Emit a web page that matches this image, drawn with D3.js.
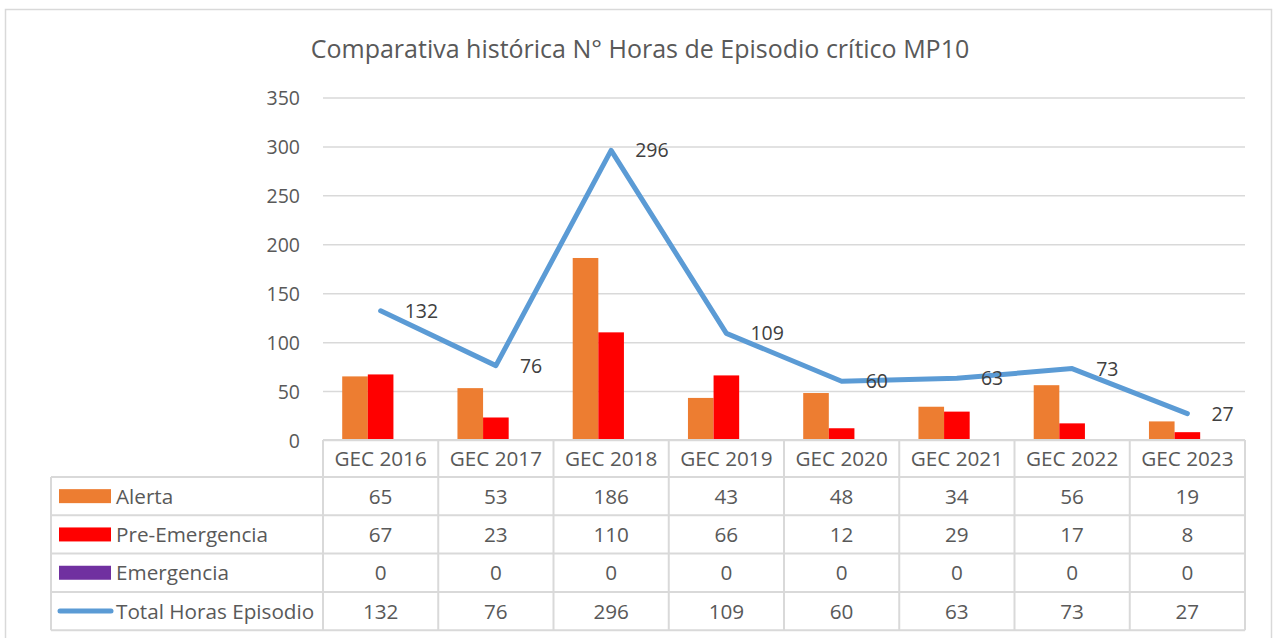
<!DOCTYPE html>
<html><head><meta charset="utf-8">
<script src="https://cdn.jsdelivr.net/npm/d3@7"></script>
<style>
html,body{margin:0;padding:0;background:#fff;}
svg{display:block;font-family:"Open Sans",sans-serif;}
</style></head>
<body>
<svg id="c" width="1276" height="638"></svg>
<script>
const categories = ["GEC 2016","GEC 2017","GEC 2018","GEC 2019","GEC 2020","GEC 2021","GEC 2022","GEC 2023"];
const alerta = [65,53,186,43,48,34,56,19];
const preEmergencia = [67,23,110,66,12,29,17,8];
const emergencia = [0,0,0,0,0,0,0,0];
const totalHoras = [132,76,296,109,60,63,73,27];
const yTicks = [0,50,100,150,200,250,300,350];
const seriesNames = ["Alerta","Pre-Emergencia","Emergencia","Total Horas Episodio"];
const title = "Comparativa histórica N° Horas de Episodio crítico MP10";

const colors = ["#ED7D31","#FF0000","#7030A0","#5B9BD5"];
const svg = d3.select("#c");
const L = 323, R = 1245, T = 97.5, B = 440;
const tableFont = 20.7;

// chart frame
svg.append("rect").attr("x",5.5).attr("y",9.5).attr("width",1266).attr("height",700)
  .attr("fill","#fff").attr("stroke","#D9D9D9").attr("stroke-width",1.5);

svg.append("text").attr("x",640).attr("y",58).attr("text-anchor","middle")
  .attr("font-size",25).attr("fill","#595959").text(title);

const x = d3.scaleBand().domain(categories).range([L,R]);
const y = d3.scaleLinear().domain([0,350]).range([B,T]);

// gridlines + y axis
const yAxis = d3.axisLeft(y).tickValues(yTicks).tickSize(-(R-L)).tickPadding(23);
const ga = svg.append("g").attr("transform",`translate(${L},0)`).call(yAxis);
ga.select(".domain").remove();
ga.selectAll(".tick line").attr("stroke","#D9D9D9").attr("stroke-width",1.5);
ga.selectAll(".tick text").attr("fill","#595959").attr("font-size",19.5)
  .attr("font-family","Open Sans").attr("dy","0.36em");

// bars (gap width 150%)
const sub = d3.scaleBand().domain([0,1,2]).range([0,x.bandwidth()]).paddingOuter(0.75).paddingInner(0);
const barSeries = [alerta, preEmergencia, emergencia];
barSeries.forEach((arr,si)=>{
  svg.append("g").selectAll("rect").data(arr).join("rect")
    .attr("x",(d,i)=>x(categories[i])+sub(si))
    .attr("width",sub.bandwidth())
    .attr("y",d=>y(d))
    .attr("height",d=>B-y(d))
    .attr("fill",colors[si]);
});

// line
const line = d3.line().x((d,i)=>x(categories[i])+x.bandwidth()/2).y(d=>y(d));
svg.append("path").datum(totalHoras).attr("d",line).attr("fill","none")
  .attr("stroke",colors[3]).attr("stroke-width",5).attr("stroke-linejoin","round").attr("stroke-linecap","round");
svg.append("g").selectAll("text").data(totalHoras).join("text")
  .attr("x",(d,i)=>x(categories[i])+x.bandwidth()/2+24)
  .attr("y",d=>y(d)).attr("dy","0.36em")
  .attr("font-size",19.5).attr("fill","#404040").text(d=>d);

// data table
const rowH = 38.3;
const headerTop = B, headerBot = 477;
const tableBot = headerBot + rowH*4;
const TL = 51;
const grid = svg.append("g").attr("stroke","#D9D9D9").attr("stroke-width",2);
grid.append("line").attr("x1",L).attr("x2",R).attr("y1",headerTop).attr("y2",headerTop);
for(let r=0;r<=4;r++){
  const yy = headerBot + r*rowH;
  grid.append("line").attr("x1",TL).attr("x2",R).attr("y1",yy).attr("y2",yy);
}
grid.append("line").attr("x1",TL).attr("x2",TL).attr("y1",headerBot).attr("y2",tableBot);
categories.forEach((c)=>{
  grid.append("line").attr("x1",x(c)).attr("x2",x(c)).attr("y1",headerTop).attr("y2",tableBot);
});
grid.append("line").attr("x1",R).attr("x2",R).attr("y1",headerTop).attr("y2",tableBot);

svg.append("g").selectAll("text").data(categories).join("text")
  .attr("x",d=>x(d)+x.bandwidth()/2).attr("y",(headerTop+headerBot)/2).attr("dy","0.36em")
  .attr("text-anchor","middle").attr("font-size",tableFont).attr("fill","#595959").text(d=>d);

const rows = [alerta, preEmergencia, emergencia, totalHoras];
rows.forEach((arr,r)=>{
  const cy = headerBot + r*rowH + rowH/2;
  svg.append("g").selectAll("text").data(arr).join("text")
    .attr("x",(d,i)=>x(categories[i])+x.bandwidth()/2).attr("y",cy).attr("dy","0.36em")
    .attr("text-anchor","middle").attr("font-size",tableFont).attr("fill","#595959").text(d=>d);
  if(r<3){
    svg.append("rect").attr("x",59).attr("y",cy-7).attr("width",52).attr("height",14).attr("fill",colors[r]);
  } else {
    svg.append("line").attr("x1",60).attr("x2",111).attr("y1",cy).attr("y2",cy)
      .attr("stroke",colors[3]).attr("stroke-width",5).attr("stroke-linecap","round");
  }
  svg.append("text").attr("x",116).attr("y",cy).attr("dy","0.36em")
    .attr("font-size",tableFont).attr("fill","#595959").text(seriesNames[r]);
});
</script>
</body></html>
